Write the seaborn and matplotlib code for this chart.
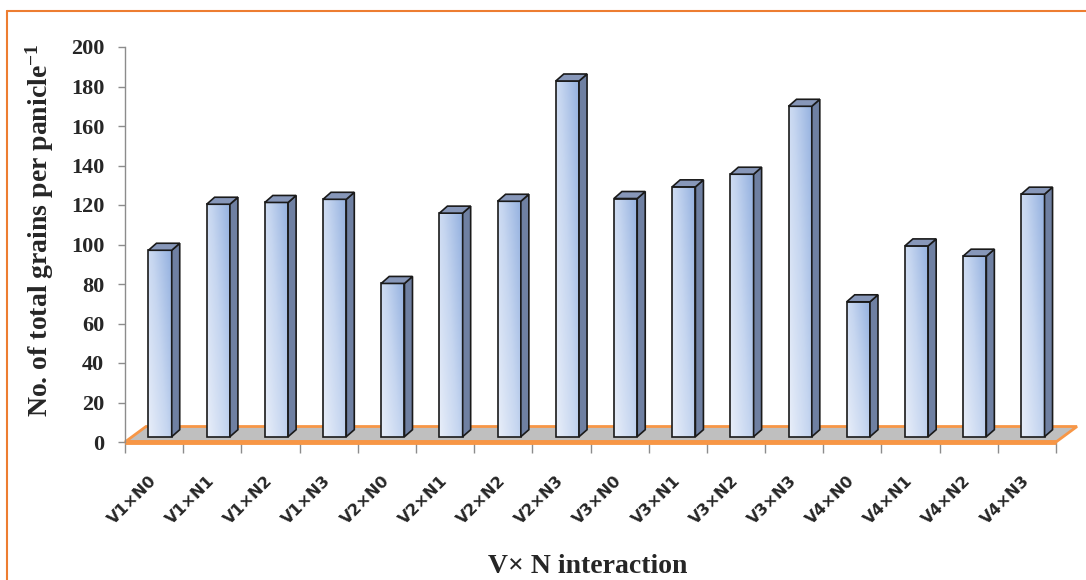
import numpy as np
import pandas as pd
import matplotlib
matplotlib.use("Agg")
import matplotlib.pyplot as plt
import seaborn as sns
from matplotlib.patches import Polygon
from matplotlib.lines import Line2D
from matplotlib.transforms import ScaledTranslation
from matplotlib.colors import LinearSegmentedColormap

# ---- data ----
categories = ["V1×N0", "V1×N1", "V1×N2", "V1×N3",
              "V2×N0", "V2×N1", "V2×N2", "V2×N3",
              "V3×N0", "V3×N1", "V3×N2", "V3×N3",
              "V4×N0", "V4×N1", "V4×N2", "V4×N3"]
grains = [94.4, 117.7, 118.6, 120.2,
          77.6, 113.2, 119.2, 180.1,
          120.6, 126.5, 132.9, 167.3,
          68.3, 96.6, 91.4, 122.8]
y_ticks = list(range(0, 201, 20))
y_label = "No. of total grains per panicle$^{-1}$"
x_label = "V× N interaction"

sns.set_theme(style="white")
plt.rcParams["font.family"] = ["Liberation Serif", "DejaVu Sans"]
plt.rcParams["mathtext.fontset"] = "custom"
plt.rcParams["mathtext.rm"] = "Liberation Serif:bold"
plt.rcParams["mathtext.it"] = "Liberation Serif:bold"
plt.rcParams["mathtext.bf"] = "Liberation Serif:bold"
plt.rcParams["mathtext.default"] = "rm"

W, H = 1086, 580
fig = plt.figure(figsize=(W / 100, H / 100), dpi=100)
ax_l, ax_r, ax_b, ax_t = 125, 1056, 442, 47
ax = fig.add_axes([ax_l / W, (H - ax_b) / H, (ax_r - ax_l) / W, (ax_b - ax_t) / H])

df = pd.DataFrame({"cat": categories, "val": grains})
sns.barplot(data=df, x="cat", y="val", order=categories, width=0.40,
            color="#a3bde6", saturation=1, ax=ax,
            edgecolor="#1a1a1a", linewidth=1.2)
ax.set_xlim(-0.5, len(categories) - 0.5)
ax.set_ylim(0, 200)

px_x = (ax_r - ax_l) / len(categories)      # pixels per category
px_y = (ax_b - ax_t) / 200.0                 # pixels per unit

# floor
fdx, fdy = 21 / px_x, 15.5 / px_y
floor = Polygon([(-0.5, 0), (-0.5 + fdx, fdy), (15.5 + fdx, fdy), (15.5, 0)],
                closed=True, facecolor="#bfbfbf", edgecolor="#f79646",
                linewidth=2, zorder=1, clip_on=False)
ax.add_patch(floor)
ax.plot([-0.5, 15.5], [0, 0], color="#f79646", lw=3.5, zorder=1.5,
        clip_on=False, solid_capstyle="butt")

# 3-D looking bars built on seaborn's bars
offset = ScaledTranslation(6 / 100, 5.3 / 100, fig.dpi_scale_trans)
tr = ax.transData + offset
ddx, ddy = 8 / px_x, 7 / px_y
cmap = LinearSegmentedColormap.from_list("g", ["#e8eef9", "#c6d6f0", "#93b0df"])
gx, gy = np.meshgrid(np.linspace(0, 1, 30), np.linspace(0, 1, 200))
grad = 0.6 * gx + 0.4 * gy
edge = "#1a1a1a"
for patch in list(ax.patches):
    if patch is floor:
        continue
    x0, w, h = patch.get_x(), patch.get_width(), patch.get_height()
    patch.set_transform(tr)
    patch.set_facecolor("none")
    patch.set_zorder(4)
    patch.set_clip_on(False)
    im = ax.imshow(grad, extent=(x0, x0 + w, 0, h), origin="lower",
                   aspect="auto", cmap=cmap, zorder=3, interpolation="bilinear")
    im.set_transform(tr)
    im.set_clip_on(False)
    side = Polygon([(x0 + w, 0), (x0 + w + ddx, ddy), (x0 + w + ddx, h + ddy), (x0 + w, h)],
                   closed=True, facecolor="#6f80a2", edgecolor=edge, linewidth=1.2,
                   transform=tr, zorder=4, clip_on=False)
    top = Polygon([(x0, h), (x0 + ddx, h + ddy), (x0 + w + ddx, h + ddy), (x0 + w, h)],
                  closed=True, facecolor="#8797b9", edgecolor=edge, linewidth=1.2,
                  transform=tr, zorder=4, clip_on=False)
    ax.add_patch(side)
    ax.add_patch(top)

ax.set_xlim(-0.5, len(categories) - 0.5)
ax.set_ylim(0, 200)

# axes styling
for s in ["top", "right", "bottom"]:
    ax.spines[s].set_visible(False)
ax.spines["left"].set_color("#8c8c8c")
ax.spines["left"].set_linewidth(1)
ax.set_yticks(y_ticks)
ax.set_yticklabels([str(t) for t in y_ticks])
ax.tick_params(axis="y", direction="out", length=5, width=1, color="#8c8c8c",
               pad=10, labelsize=16, left=True)
for lab in ax.get_yticklabels():
    lab.set_fontweight("bold")
    lab.set_family("Liberation Serif")

ax.set_xticks(range(len(categories)))
ax.set_xticklabels(categories)
ax.set_xticks(np.arange(-0.5, len(categories), 1), minor=True)
ax.tick_params(axis="x", which="major", length=0, pad=26, bottom=True)
ax.tick_params(axis="x", which="minor", length=8, width=1, color="#8c8c8c",
               direction="out", bottom=True)
for lab in ax.get_xticklabels():
    lab.set_rotation(45)
    lab.set_ha("right")
    lab.set_va("center")
    lab.set_rotation_mode("anchor")
    lab.set_family("DejaVu Sans")
    lab.set_fontweight("bold")
    lab.set_fontsize(11.5)

ax.set_xlabel("")
ax.set_ylabel(y_label, fontsize=20, fontweight="bold", family="Liberation Serif")
ax.yaxis.set_label_coords(-0.074, 0.535)

fig.text(0.5414, 0.012, x_label, ha="center", va="baseline", fontsize=20,
         fontweight="bold", family="Liberation Serif")

# orange frame (top and left)
fy = 1 - 11 / H
fx = 7 / W
fig.add_artist(Line2D([fx, 1], [fy, fy], transform=fig.transFigure, color="#ed7d31", lw=1.5))
fig.add_artist(Line2D([fx, fx], [0, fy], transform=fig.transFigure, color="#ed7d31", lw=1.5))

fig.savefig("out.png", dpi=100)
